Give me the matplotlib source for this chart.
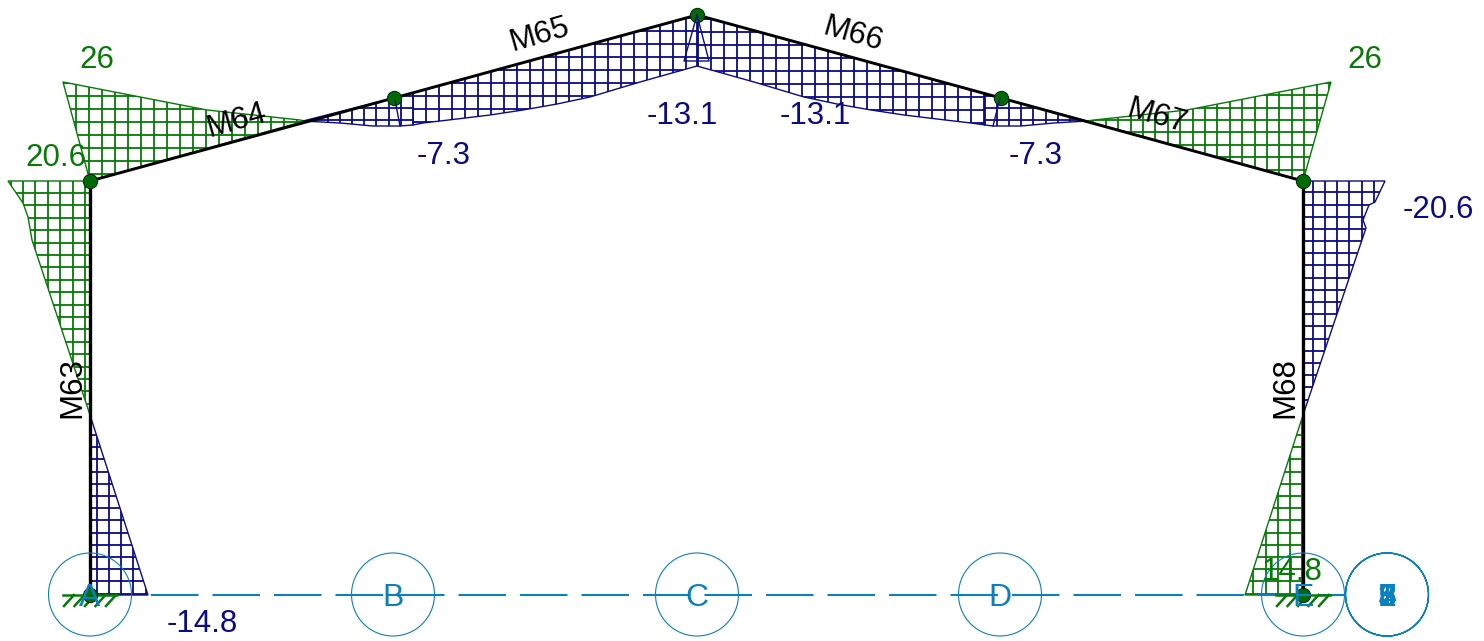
import matplotlib
matplotlib.use("Agg")
import matplotlib.pyplot as plt
from matplotlib.patches import Polygon, Circle

plt.rcParams['font.family'] = ['Liberation Sans', 'DejaVu Sans']

GREEN = '#057a05'
NODE_GREEN = '#006b06'
NAVY = '#0b0b85'
BLUE = '#0a80c0'

# frame nodes, picture coordinates
frame_x = [90, 394, 697, 1001, 1303]
frame_y = [181, 98, 15, 98, 181]
base_y = 595

# moment diagrams: outline, colour, hatch step and hatch origin
col_left_top = [(90, 181), (8, 181), (23, 203), (28, 217), (32, 240), (90, 415)]
col_left_bot = [(90, 415), (148, 595), (90, 595)]
col_right_top = [(1303, 181), (1385, 181), (1375, 202), (1369, 205), (1363, 220), (1366, 228), (1303, 415)]
col_right_bot = [(1303, 415), (1245, 595), (1303, 595)]
raft_left_green = [(90, 181), (63, 82), (207, 110), (300, 120), (305, 121)]
raft_right_green = [(1303, 181), (1331, 82), (1187, 110), (1094, 120), (1087, 121)]
raft_left_blue_a = [(303, 121), (340, 123), (373, 126), (400, 126), (413, 125), (413, 93), (394, 98)]
raft_left_blue_b = [(413, 93), (413, 125), (423, 123), (457, 119), (490, 115), (523, 110), (557, 104),
                    (590, 97), (640, 82), (697, 66), (697, 15)]
raft_right_blue_b = [(697, 15), (697, 66), (754, 82), (804, 97), (837, 104), (871, 110), (904, 115),
                     (937, 119), (971, 123), (985, 125), (985, 94)]
raft_right_blue_a = [(985, 94), (985, 125), (993, 126), (1021, 126), (1054, 123), (1087, 121), (1001, 98)]

diagrams = [
    (col_left_top, GREEN, 12.4, 10.6, 193),
    (col_left_bot, NAVY, 12.2, 96.7, 435),
    (col_right_top, NAVY, 12.2, 1312.7, 192.3),
    (col_right_bot, GREEN, 12.2, 1290, 435),
    (raft_left_green, GREEN, 13, 76, 96),
    (raft_right_green, GREEN, 12.4, 1105.7, 120),
    (raft_left_blue_a, NAVY, 12.2, 327.7, 108),
    (raft_left_blue_b, NAVY, 13, 413.3, 31),
    (raft_right_blue_b, NAVY, 13, 711, 32),
    (raft_right_blue_a, NAVY, 12.2, 1009, 107.7),
]

# small stiffener outlines at the haunch and apex
detail_lines = [
    [(395, 100), (400, 126)],
    [(1000, 98), (993, 126)],
    [(697, 15), (684, 61), (709, 61), (697, 15)],
]

green_labels = [('26', 97, 57), ('20.6', 56, 155), ('26', 1365, 57), ('14.8', 1292, 568)]
navy_labels = [('-7.3', 444, 152), ('-13.1', 682, 113), ('-13.1', 815, 113), ('-7.3', 1036, 152),
               ('-20.6', 1438, 206), ('-14.8', 202, 621)]
member_labels = [('M63', 72, 388, 90), ('M64', 236, 121, 16), ('M65', 539, 35, 16),
                 ('M66', 853, 35, -16), ('M67', 1157, 117, -16), ('M68', 1285, 388, 90)]

grid_labels = ['A', 'B', 'C', 'D', 'E']
grid_x = [90, 393, 697, 1000, 1303]
stack_labels = ['1', '2', '3', '4', '5', '6', '7', '8']
stack_x = 1387
support_x = [90, 1303]

fig = plt.figure(figsize=(14.84, 6.41), dpi=100)
ax = fig.add_axes([0, 0, 1, 1])
ax.set_xlim(0, 1484)
ax.set_ylim(641, 0)
ax.axis('off')


def hatch(outline, color, step, x0, y0):
    poly = Polygon(outline, closed=True, facecolor='none', edgecolor=color, lw=1.0, zorder=2)
    ax.add_patch(poly)
    xs = [p[0] for p in outline]
    ys = [p[1] for p in outline]
    x = x0
    while x - step > min(xs):
        x -= step
    while x < max(xs):
        line = ax.plot([x, x], [min(ys), max(ys)], color=color, lw=1.3, zorder=2)[0]
        line.set_clip_path(poly)
        x += step
    y = y0
    while y - step > min(ys):
        y -= step
    while y < max(ys):
        line = ax.plot([min(xs), max(xs)], [y, y], color=color, lw=1.3, zorder=2)[0]
        line.set_clip_path(poly)
        y += step


for outline, color, step, x0, y0 in diagrams:
    hatch(outline, color, step, x0, y0)

for seg in detail_lines:
    ax.plot([p[0] for p in seg], [p[1] for p in seg], color=NAVY, lw=1.0, zorder=6)

# axis line
ax.plot([151, 1345], [base_y, base_y], color=BLUE, lw=1.5, zorder=3,
        linestyle=(0, (47.5 / 1.5 * 0.72, 14 / 1.5 * 0.72)), dash_capstyle='butt')

# frame
ax.plot([frame_x[0], frame_x[0]], [base_y, frame_y[0]], color='black', lw=2.4, zorder=4)
ax.plot([frame_x[-1], frame_x[-1]], [base_y, frame_y[-1]], color='black', lw=2.4, zorder=4)
ax.plot(frame_x, frame_y, color='black', lw=2.1, zorder=4)

# supports
for sx in support_x:
    ax.plot([sx - 27, sx + 27], [base_y, base_y], color=GREEN, lw=1.8, zorder=4)
    for k in range(5):
        tx = sx - 16 + k * 10.5
        ax.plot([tx, tx - 10], [base_y, base_y + 11], color=GREEN, lw=1.8, zorder=4)

# nodes
ax.scatter(frame_x + support_x, frame_y + [base_y, base_y], s=105, color=NODE_GREEN,
           edgecolors='#06300a', linewidths=0.8, zorder=5)

# grid bubbles
for name, gx in zip(grid_labels, grid_x):
    ax.add_patch(Circle((gx, base_y - 0.5), 41.5, fill=False, edgecolor=BLUE, lw=0.8, zorder=6))
    ax.text(gx, base_y, name, color=BLUE, fontsize=23, ha='center', va='center_baseline', zorder=7)
for name in stack_labels:
    ax.add_patch(Circle((stack_x, base_y - 0.5), 41.5, fill=False, edgecolor=BLUE, lw=0.8, zorder=6))
    ax.text(stack_x, base_y, name, color=BLUE, fontsize=23, ha='center', va='center_baseline', zorder=7)

for text, x, y in green_labels:
    ax.text(x, y, text, color=GREEN, fontsize=22.5, ha='center', va='center_baseline', zorder=8)
for text, x, y in navy_labels:
    ax.text(x, y, text, color=NAVY, fontsize=22.5, ha='center', va='center_baseline', zorder=8)
for text, x, y, rot in member_labels:
    ax.text(x, y, text, color='black', fontsize=22.5, ha='center', va='center', rotation=rot,
            rotation_mode='anchor', zorder=8)

fig.savefig('out.png', dpi=100)
